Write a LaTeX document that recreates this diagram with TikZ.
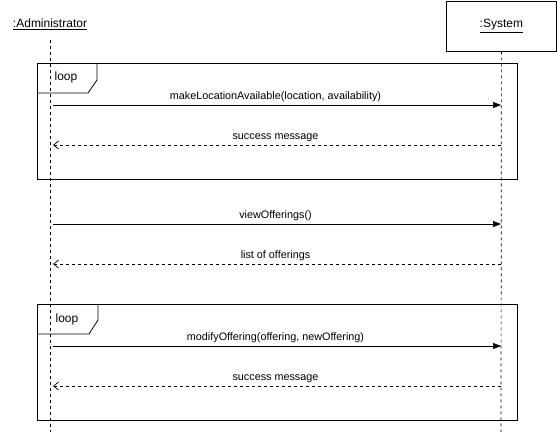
\documentclass[tikz,border=0pt]{standalone}
\usepackage{fontspec}
\setmainfont{Liberation Sans}
\usepackage{tikz}
\usetikzlibrary{positioning, arrows.meta}

\begin{document}
\begin{tikzpicture}[
  x=1pt, y=-1pt,
  every node/.style={font=\fontsize{10.8}{13}\selectfont, inner sep=1pt},
  lifeline/.style={dash pattern=on 3pt off 3pt, line width=0.7pt},
  call/.style={-{Triangle[length=8pt,width=6pt]}, line width=0.7pt, shorten <=3pt},
  reply/.style={{Straight Barb[length=5pt,width=8pt]}-, line width=0.7pt, dash pattern=on 3pt off 3pt, shorten <=3pt},
  frame/.style={draw, line width=0.8pt},
  looplabel/.style={font=\fontsize{12}{14}\selectfont}
]
  \useasboundingbox (0,0) rectangle (557,432);

  % participants
  \node[font=\fontsize{12}{14}\selectfont] (admin) at (50,24) {\underline{:Administrator}};
  \node[draw, line width=0.8pt, minimum width=110pt, minimum height=50pt, anchor=north west,
        font=\fontsize{12}{14}\selectfont] (sys) at (446,0.5) {\underline{:System}};

  \coordinate (adminTop) at (50,40);
  \coordinate (adminEnd) at (50,432);
  \coordinate (sysEnd) at (501,432);
  \draw[lifeline] (adminTop) -- (adminEnd);
  \draw[lifeline] (sys.south) -- (sysEnd);

  % loop frames
  \draw[frame] (37,63) rectangle (517,179);
  \draw[frame] (37,93) -- (88,93) -- (97,80) -- (97,63);
  \node[looplabel] (loopA) at (66,77) {loop};

  \draw[frame] (37,304) rectangle (517,420);
  \draw[frame] (37,334) -- (89,334) -- (98,320) -- (98,304);
  \node[looplabel] (loopB) at (67,319) {loop};

  % messages
  \coordinate (a1) at (50,105);  \coordinate (s1) at (501,105);
  \coordinate (a2) at (50,145);  \coordinate (s2) at (501,145);
  \coordinate (a3) at (50,224);  \coordinate (s3) at (501,224);
  \coordinate (a4) at (50,264);  \coordinate (s4) at (501,264);
  \coordinate (a5) at (50,346);  \coordinate (s5) at (501,346);
  \coordinate (a6) at (50,386);  \coordinate (s6) at (501,386);

  \draw[call]  (a1) -- node[above=2pt]{makeLocationAvailable(location, availability)} (s1);
  \draw[reply] (a2) -- node[above=2pt]{success message} (s2);
  \draw[call]  (a3) -- node[above=2pt]{viewOfferings()} (s3);
  \draw[reply] (a4) -- node[above=2pt]{list of offerings} (s4);
  \draw[call]  (a5) -- node[above=2pt]{modifyOffering(offering, newOffering)} (s5);
  \draw[reply] (a6) -- node[above=2pt]{success message} (s6);
\end{tikzpicture}
\end{document}
